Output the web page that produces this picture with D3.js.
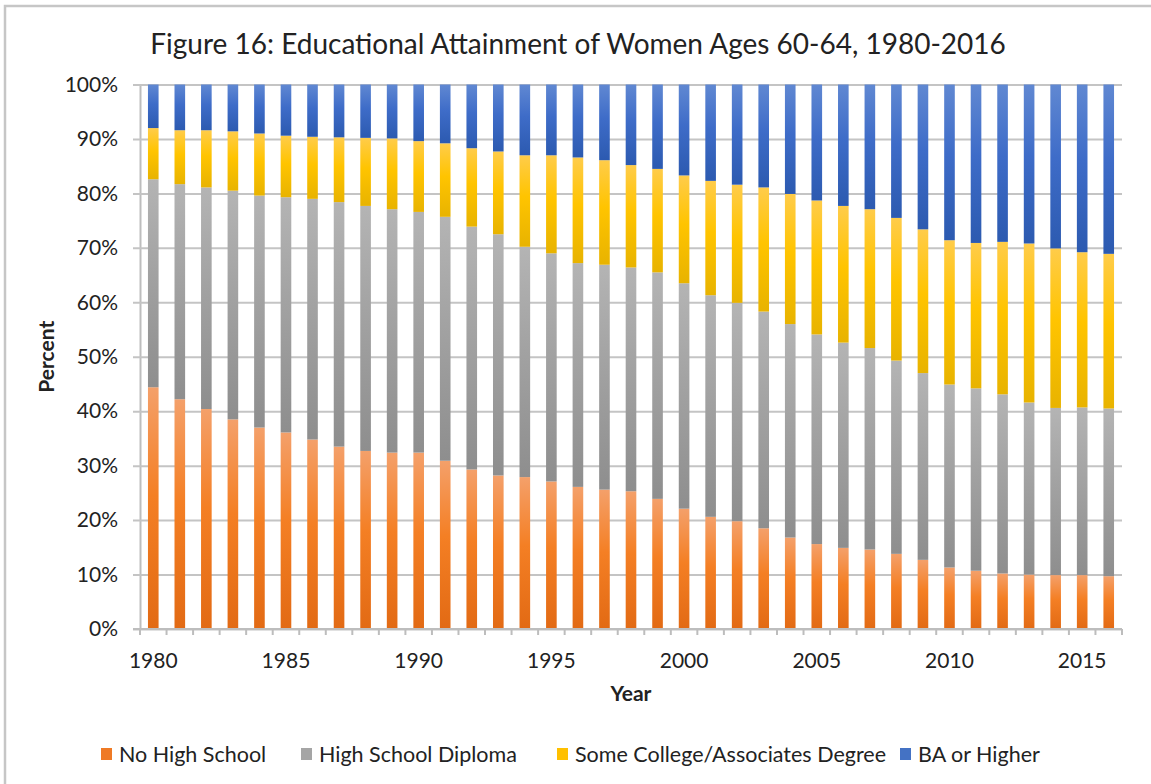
<!DOCTYPE html>
<html>
<head>
<meta charset="utf-8">
<script src="https://cdn.jsdelivr.net/npm/d3@7"></script>
<style>
body { margin:0; background:#fff; }
svg text { font-family: Lato, "Open Sans", sans-serif; fill:#222; }
</style>
</head>
<body>
<div id="ChartPart"></div>
<script>
//Data, percent per year---------------------------------------------------------------------------------------------
var years = d3.range(1980, 2017);
var yearLabels = [1980, 1985, 1990, 1995, 2000, 2005, 2010, 2015];
var yTicks = [0, 0.1, 0.2, 0.3, 0.4, 0.5, 0.6, 0.7, 0.8, 0.9, 1];
var seriesNames = ["No High School", "High School Diploma", "Some College/Associates Degree", "BA or Higher"];

var noHighSchool = [44.4,42.2,40.4,38.5,37.0,36.1,34.8,33.5,32.7,32.4,32.4,30.9,29.3,28.2,27.9,27.1,26.1,25.6,25.3,23.9,22.1,20.6,19.8,18.5,16.8,15.6,14.9,14.6,13.8,12.7,11.3,10.7,10.2,10.0,9.9,9.9,9.7];
var highSchool = [38.2,39.5,40.7,42.0,42.6,43.2,44.2,44.9,45.0,44.7,44.2,44.8,44.6,44.3,42.3,41.9,41.1,41.3,41.1,41.6,41.4,40.7,40.1,39.8,39.2,38.5,37.7,37.0,35.5,34.3,33.6,33.5,32.9,31.6,30.7,30.8,30.8];
var someCollege = [9.4,9.9,10.5,10.9,11.4,11.3,11.4,11.9,12.5,13.0,13.0,13.5,14.4,15.2,16.8,18.0,19.4,19.2,18.8,19.0,19.8,21.0,21.7,22.8,23.9,24.6,25.1,25.5,26.2,26.4,26.5,26.7,28.0,29.2,29.3,28.5,28.4];
var baOrHigher = [8.0,8.4,8.4,8.6,9.0,9.4,9.6,9.7,9.8,9.9,10.4,10.8,11.7,12.3,13.0,13.0,13.4,13.9,14.8,15.5,16.7,17.7,18.4,18.9,20.1,21.3,22.3,22.9,24.5,26.6,28.6,29.1,28.9,29.2,30.1,30.8,31.1];

//colours: top, middle, bottom of the Excel gradient
var seriesColors = [
	["#f4a06a", "#f47f24", "#e26a14"],
	["#b4b4b4", "#a2a2a2", "#8e8e8e"],
	["#ffcc4a", "#ffc400", "#e8b300"],
	["#6088d2", "#3e6cc8", "#2c5ab0"]
];
var legendColors = ["#ef7a25", "#a5a5a5", "#ffc000", "#4472c4"];

var W = 1151, H = 784;
var plotLeft = 140, plotRight = 1122, plotTop = 84.5, plotBottom = 629;

//Build the rows for the stack---------------------------------------------------------------------------------------
var rows = years.map(function(y, i){
	var r = {year: y};
	r[seriesNames[0]] = noHighSchool[i] / 100;
	r[seriesNames[1]] = highSchool[i] / 100;
	r[seriesNames[2]] = someCollege[i] / 100;
	r[seriesNames[3]] = baOrHigher[i] / 100;
	return r;
});
var stacked = d3.stack().keys(seriesNames)(rows);

var svg = d3.select("#ChartPart").append("svg")
	.attr("width", W)
	.attr("height", H);

//gradients
var defs = svg.append("defs");
seriesColors.forEach(function(c, i){
	var g = defs.append("linearGradient")
		.attr("id", "grad" + i)
		.attr("x1", 0).attr("y1", 0).attr("x2", 0).attr("y2", 1);
	g.append("stop").attr("offset", "0%").attr("stop-color", c[0]);
	g.append("stop").attr("offset", "45%").attr("stop-color", c[1]);
	g.append("stop").attr("offset", "100%").attr("stop-color", c[2]);
});

//outer frame
svg.append("path")
	.attr("d", "M5," + H + "V6H" + W)
	.attr("fill", "none")
	.attr("stroke", "#c6c6c6")
	.attr("stroke-width", 2.5);

var x = d3.scaleBand()
	.domain(years)
	.range([plotLeft, plotRight])
	.paddingInner(0.6)
	.paddingOuter(0.3);

var y = d3.scaleLinear()
	.domain([0, 1])
	.range([plotBottom, plotTop]);

//Gridlines and y labels---------------------------------------------------------------------------------------------
var yAxis = svg.append("g")
	.attr("transform", "translate(" + plotLeft + ",0)")
	.call(d3.axisLeft(y).tickValues(yTicks).tickFormat(d3.format(".0%"))
		.tickSizeInner(-(plotRight - plotLeft)).tickSizeOuter(0).tickPadding(22));
yAxis.select(".domain").attr("stroke", "#bdbdbd").attr("stroke-width", 2);
yAxis.selectAll(".tick line")
	.attr("x1", -7)
	.attr("stroke", "#c4c4c4")
	.attr("stroke-width", 2);
yAxis.selectAll(".tick text")
	.style("font-size", "21px")
	.attr("fill", "#222");

//Bars---------------------------------------------------------------------------------------------------------------
svg.append("g").selectAll("g")
	.data(stacked)
	.enter()
	.append("g")
	.attr("fill", function(d, i){ return "url(#grad" + i + ")"; })
	.selectAll("rect")
	.data(function(d){ return d; })
	.enter()
	.append("rect")
	.attr("x", function(d){ return x(d.data.year); })
	.attr("y", function(d){ return y(d[1]); })
	.attr("width", x.bandwidth())
	.attr("height", function(d){ return y(d[0]) - y(d[1]); });

//X axis: baseline, boundary ticks, labels---------------------------------------------------------------------------
var xAxis = svg.append("g");
xAxis.append("line")
	.attr("x1", plotLeft - 7).attr("x2", plotRight)
	.attr("y1", y(0)).attr("y2", y(0))
	.attr("stroke", "#bdbdbd").attr("stroke-width", 2);
var boundaries = years.map(function(yr){ return x(yr) - x.step() * x.paddingOuter(); });
boundaries.push(plotRight);
xAxis.selectAll(".bt")
	.data(boundaries)
	.enter()
	.append("line")
	.attr("class", "bt")
	.attr("x1", function(d){ return d; }).attr("x2", function(d){ return d; })
	.attr("y1", y(0)).attr("y2", y(0) + 6)
	.attr("stroke", "#bdbdbd").attr("stroke-width", 2);
xAxis.selectAll(".xl")
	.data(yearLabels)
	.enter()
	.append("text")
	.attr("class", "xl")
	.attr("x", function(d){ return x(d) + x.bandwidth() / 2; })
	.attr("y", 668)
	.attr("text-anchor", "middle")
	.style("font-size", "21px")
	.text(function(d){ return d; });

//Titles------------------------------------------------------------------------------------------------------------
svg.append("text")
	.attr("x", 578)
	.attr("y", 54)
	.attr("text-anchor", "middle")
	.style("font-size", "28px")
	.text("Figure 16: Educational Attainment of Women Ages 60-64, 1980-2016");

svg.append("text")
	.attr("x", 631)
	.attr("y", 701)
	.attr("text-anchor", "middle")
	.style("font-size", "21px")
	.style("font-weight", "bold")
	.text("Year");

svg.append("text")
	.attr("transform", "translate(54," + ((plotTop + plotBottom) / 2) + ") rotate(-90)")
	.attr("text-anchor", "middle")
	.style("font-size", "21px")
	.style("font-weight", "bold")
	.text("Percent");

//Legend------------------------------------------------------------------------------------------------------------
var legendX = [101, 301, 557, 900];
var legend = svg.append("g").selectAll("g")
	.data(seriesNames)
	.enter()
	.append("g")
	.attr("transform", function(d, i){ return "translate(" + legendX[i] + ",0)"; });
legend.append("rect")
	.attr("x", 0).attr("y", 748)
	.attr("width", 11).attr("height", 12)
	.attr("fill", function(d, i){ return legendColors[i]; });
legend.append("text")
	.attr("x", 18).attr("y", 762)
	.style("font-size", "21.5px")
	.text(function(d){ return d; });
</script>
</body>
</html>
